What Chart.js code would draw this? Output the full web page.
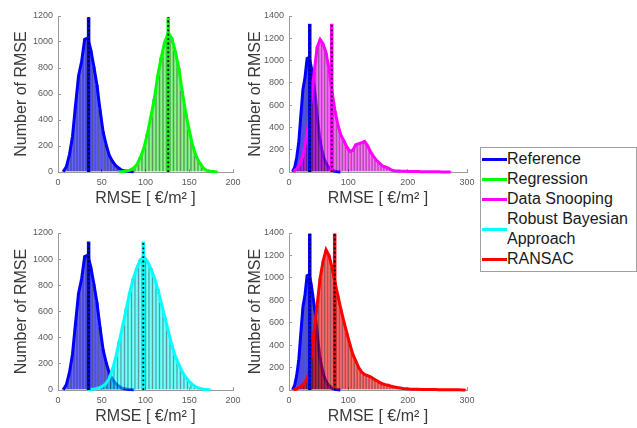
<!DOCTYPE html>
<html><head><meta charset="utf-8">
<script src="https://cdn.jsdelivr.net/npm/chart.js@4/dist/chart.umd.min.js"></script>
<style>
html,body{margin:0;padding:0;background:#fff;}
body{width:637px;height:428px;position:relative;overflow:hidden;font-family:"Liberation Sans",Arial,Helvetica,sans-serif;}
.pane{position:absolute;}
#legend{position:absolute;left:480px;top:147px;width:157px;height:125px;box-sizing:border-box;border:1px solid #a0a0a0;background:#fff;}
.row{position:absolute;left:0;width:150px;font-size:16px;line-height:20px;color:#1a1a1a;}
.sw{position:absolute;left:1px;width:25px;height:3px;}
.lt{position:absolute;left:26px;top:0;white-space:nowrap;}
</style></head><body>
<div class="pane" style="left:0;top:0"><canvas id="c1" width="250" height="210"></canvas></div>
<div class="pane" style="left:235px;top:0"><canvas id="c2" width="245" height="210"></canvas></div>
<div class="pane" style="left:0;top:215px"><canvas id="c3" width="250" height="213"></canvas></div>
<div class="pane" style="left:235px;top:215px"><canvas id="c4" width="245" height="213"></canvas></div>
<div id="legend"></div>
<script>
// ---- data ----
const refX = [6, 9.5, 13, 16.5, 20, 23.5, 27, 30.5, 34, 37.5, 41, 44.5, 48, 51.5, 55, 58.5, 62, 65.5, 69, 72.5, 76, 79.5, 83, 86.5];
const refY = [3, 40, 130, 270, 510, 740, 850, 1020, 1030, 940, 810, 670, 480, 310, 210, 130, 85, 52, 32, 16, 9, 5, 3, 1];

const regX = [70, 74, 78, 82, 86, 90, 94, 98, 102, 106, 110, 114, 118, 122, 126, 130, 134, 138, 142, 146, 150, 154, 158, 162, 166, 170, 174, 178, 182];
const regY = [2, 4, 7, 14, 28, 55, 110, 180, 290, 420, 560, 740, 880, 1000, 1070, 1030, 930, 800, 620, 450, 320, 200, 120, 70, 30, 12, 6, 3, 1];

const dsX = [7.5, 12.5, 17.5, 22.5, 27.5, 32.5, 37.5, 42.5, 47.5, 52.5, 57.5, 62.5, 67.5, 72.5, 77.5, 82.5, 87.5, 92.5, 97.5, 102.5,
  107.5, 112.5, 117.5, 122.5, 127.5, 132.5, 137.5, 142.5, 147.5, 152.5, 157.5, 162.5, 167.5, 172.5, 177.5, 182.5, 187.5, 192.5, 197.5, 202.5,
  207.5, 212.5, 217.5, 222.5, 227.5, 232.5, 237.5, 242.5, 247.5, 252.5, 257.5, 262.5, 267.5, 272.5];
const dsY = [5, 25, 60, 130, 250, 430, 650, 900, 1120, 1190, 1150, 1070, 920, 720, 550, 420, 330, 280, 225, 185,
  195, 245, 255, 262, 275, 235, 180, 140, 105, 80, 55, 45, 35, 18, 12, 10, 8, 7, 6, 5,
  5, 4, 4, 3, 3, 3, 2, 2, 2, 2, 1, 1, 1, 1];

const rbaX = [34, 38, 42, 46, 50, 54, 58, 62, 66, 70, 74, 78, 82, 86, 90, 94, 98, 102, 106, 110, 114, 118, 122, 126, 130, 134, 138, 142, 146, 150, 154, 158, 162, 166, 170, 174];
const rbaY = [3, 5, 8, 15, 25, 45, 80, 150, 250, 370, 490, 620, 745, 850, 930, 995, 1020, 985, 930, 860, 770, 665, 560, 450, 345, 260, 195, 140, 95, 65, 40, 22, 12, 6, 3, 1];

const ransacX = [7.5, 12.5, 17.5, 22.5, 27.5, 32.5, 37.5, 42.5, 47.5, 52.5, 57.5, 62.5, 67.5, 72.5, 77.5, 82.5, 87.5, 92.5, 97.5, 102.5,
  107.5, 112.5, 117.5, 122.5, 127.5, 132.5, 137.5, 142.5, 147.5, 152.5, 157.5, 162.5, 167.5, 172.5, 177.5, 182.5, 187.5, 192.5, 197.5, 202.5,
  207.5, 212.5, 217.5, 222.5, 227.5, 232.5, 237.5, 242.5, 247.5, 252.5, 257.5, 262.5, 267.5, 272.5, 277.5, 282.5, 287.5, 292.5, 297.5];
const ransacY = [2, 8, 25, 45, 70, 130, 300, 530, 760, 1000, 1150, 1250, 1200, 1090, 960, 840, 720, 610, 510, 410,
  320, 260, 200, 160, 138, 128, 118, 100, 85, 68, 56, 48, 42, 33, 28, 22, 18, 14, 11, 8,
  7, 6, 6, 5, 5, 5, 4, 4, 4, 3, 3, 3, 3, 2, 2, 2, 2, 1, 1];

// mean RMSE per method: Reference, Regression, Data Snooping, Robust Bayesian, RANSAC
const meanValues = [35, 126, 72, 97.5, 77];
// height of the mean markers in each panel
const meanTops = [1190, 1330, 1135, 1395];

// axis ranges / ticks per panel
const xMaxes = [200, 300, 200, 300];
const xSteps = [50, 100, 50, 100];
const yMaxes = [1200, 1400, 1200, 1400];
const yStep = 200;

const legendLabels = ['Reference', 'Regression', 'Data Snooping', ['Robust Bayesian', 'Approach'], 'RANSAC'];
const lineColors = ['#0000ff', '#00ff00', '#ff00ff', '#00ffff', '#ff0000'];
const fillColors = ['rgba(0,0,255,0.6)', 'rgba(0,230,0,0.45)', 'rgba(255,0,255,0.55)', 'rgba(0,255,255,0.55)', 'rgba(255,0,0,0.55)'];

// ---- rendering ----
Chart.defaults.font.family = '"Liberation Sans", Arial, Helvetica, sans-serif';

function pts(xs, ys) { return xs.map((x, i) => ({x: x, y: ys[i]})); }
const plain = (v) => String(v);

const panes = [
  {id: 'c1', k: 1, xs: regX, ys: regY, padT: 16, padR: 17, yW: 58, xH: 38, tPad: 12},
  {id: 'c2', k: 2, xs: dsX, ys: dsY, padT: 16, padR: 13, yW: 54, xH: 38, tPad: 10.5},
  {id: 'c3', k: 3, xs: rbaX, ys: rbaY, padT: 18, padR: 17, yW: 58, xH: 38, tPad: 12},
  {id: 'c4', k: 4, xs: ransacX, ys: ransacY, padT: 18, padR: 13, yW: 54, xH: 38, tPad: 10.5}
];

const axisGrey = '#9a9a9a';

panes.forEach((p, idx) => {
  const ref = pts(refX, refY);
  const oth = pts(p.xs, p.ys);
  const top = meanTops[idx];
  const mRef = meanValues[0], mOth = meanValues[p.k];
  const barCommon = {type: 'bar', borderColor: 'rgba(0,0,0,0.42)', borderWidth: 0.5,
    barPercentage: 1, categoryPercentage: 1, grouped: false};
  const lineCommon = {type: 'line', pointRadius: 0, tension: 0, fill: false, xAxisID: 'x', clip: false};
  const dotted = {borderColor: '#000', borderWidth: 1.8, borderDash: [1.8, 2.6], borderCapStyle: 'butt'};
  const datasets = [
    Object.assign({}, barCommon, {data: ref, xAxisID: 'x', backgroundColor: fillColors[0], order: 8}),
    Object.assign({}, lineCommon, {data: ref, borderColor: lineColors[0], borderWidth: 3, order: 7}),
    Object.assign({}, barCommon, {data: oth, xAxisID: 'x2', backgroundColor: fillColors[p.k], order: 6}),
    Object.assign({}, lineCommon, {data: oth, borderColor: lineColors[p.k], borderWidth: 3, order: 5}),
    Object.assign({}, lineCommon, {data: [{x: mRef, y: 0}, {x: mRef, y: top}], borderColor: lineColors[0], borderWidth: 3.5, order: 4}),
    Object.assign({}, lineCommon, dotted, {data: [{x: mRef, y: 0}, {x: mRef, y: top}], order: 3}),
    Object.assign({}, lineCommon, {data: [{x: mOth, y: 0}, {x: mOth, y: top}], borderColor: lineColors[p.k], borderWidth: 3.5, order: 2}),
    Object.assign({}, lineCommon, dotted, {data: [{x: mOth, y: 0}, {x: mOth, y: top}], order: 1})
  ];
  new Chart(document.getElementById(p.id), {
    type: 'bar',
    data: {datasets: datasets},
    options: {
      responsive: false, animation: false, devicePixelRatio: 1,
      layout: {padding: {top: p.padT, right: p.padR, left: 0, bottom: 0}},
      plugins: {legend: {display: false}, tooltip: {enabled: false}},
      scales: {
        x: {
          type: 'linear', position: 'bottom', min: 0, max: xMaxes[idx], offset: false,
          ticks: {stepSize: xSteps[idx], font: {size: 9}, color: '#5a5a5a', padding: 8, maxRotation: 0, autoSkip: false, callback: plain},
          grid: {display: true, drawOnChartArea: false, drawTicks: true, tickLength: -3, color: axisGrey, offset: false},
          border: {display: true, color: axisGrey, width: 1},
          title: {display: true, text: 'RMSE [ €/m² ]', font: {size: 16}, color: '#3a3a3a', padding: {top: 0, bottom: 2}},
          afterFit(s) { s.height = p.xH; s.paddingLeft = 0; s.paddingRight = 0; }
        },
        x2: {
          type: 'linear', position: 'bottom', min: 0, max: xMaxes[idx], offset: false, display: false,
          grid: {offset: false}
        },
        y: {
          type: 'linear', position: 'left', min: 0, max: yMaxes[idx],
          ticks: {stepSize: yStep, font: {size: 9}, color: '#5a5a5a', padding: 8, callback: plain},
          grid: {display: true, drawOnChartArea: false, drawTicks: true, tickLength: -3, color: axisGrey},
          border: {display: true, color: axisGrey, width: 1},
          title: {display: true, text: 'Number of RMSE', font: {size: 16}, color: '#3a3a3a', padding: {top: p.tPad, bottom: 0}},
          afterFit(s) { s.width = p.yW; s.paddingTop = 0; s.paddingBottom = 0; }
        }
      }
    }
  });
});

// ---- legend ----
const legend = document.getElementById('legend');
let yPos = 1;
legendLabels.forEach((lab, i) => {
  const lines = Array.isArray(lab) ? lab : [lab];
  const h = lines.length * 20;
  const row = document.createElement('div');
  row.className = 'row';
  row.style.top = yPos + 'px';
  row.style.height = h + 'px';
  const sw = document.createElement('div');
  sw.className = 'sw';
  sw.style.background = lineColors[i];
  sw.style.top = (h / 2 - 1.5) + 'px';
  const t = document.createElement('div');
  t.className = 'lt';
  t.innerHTML = lines.join('<br>');
  row.appendChild(sw);
  row.appendChild(t);
  legend.appendChild(row);
  yPos += h;
});
</script>
</body></html>
